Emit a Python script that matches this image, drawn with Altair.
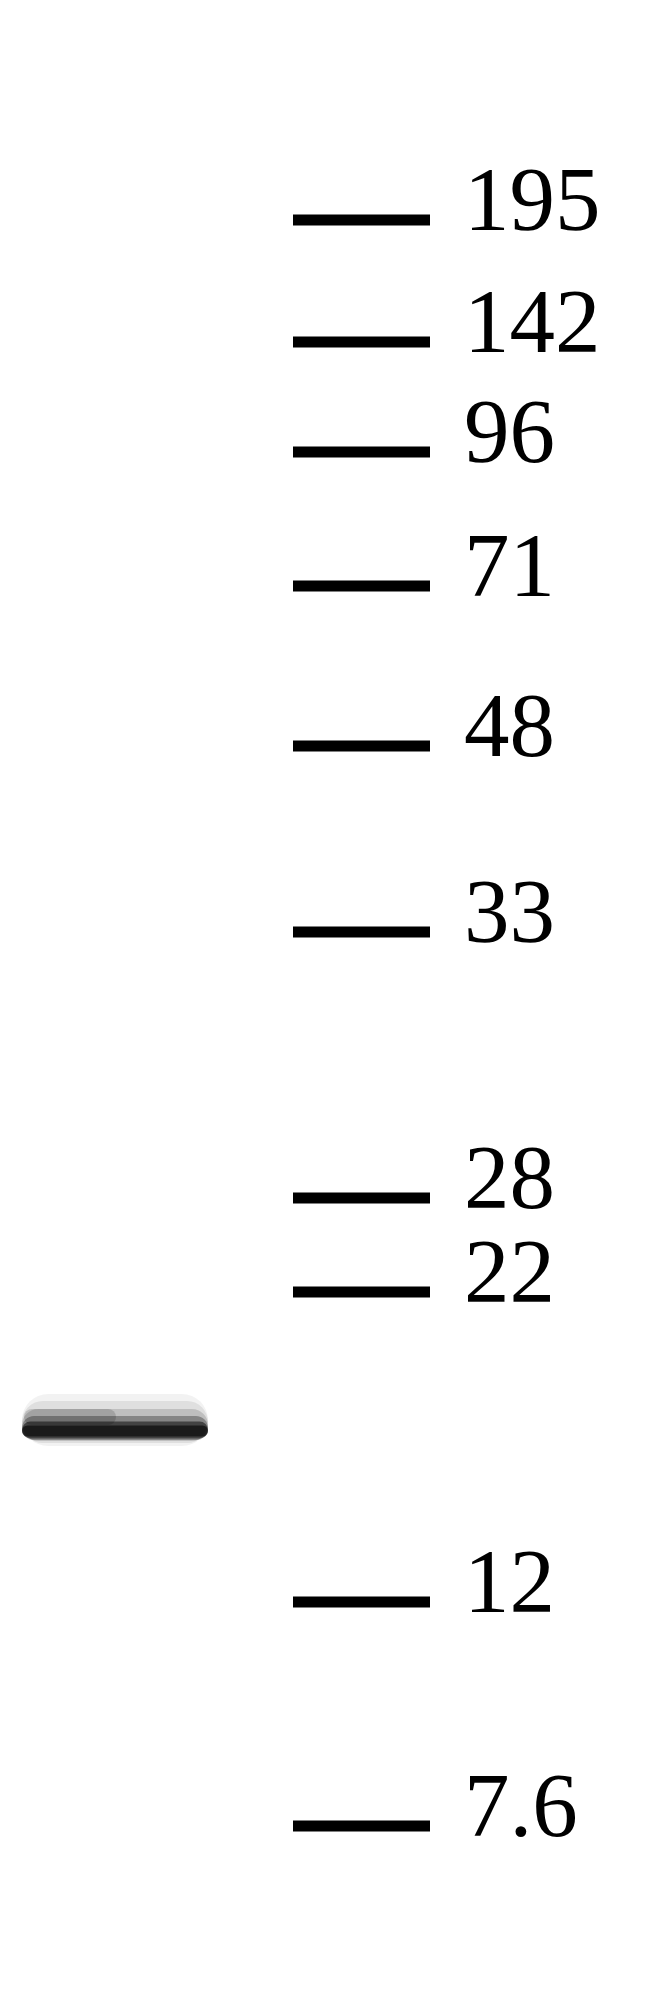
import pandas as pd
import altair as alt

# marker ladder (kDa) and where each marker ran on the gel (picture units, from top)
marker_kda = ["195", "142", "96", "71", "48", "33", "28", "22", "12", "7.6"]
marker_migration = [212, 334, 444, 578, 738, 924, 1190, 1284, 1594, 1818]

# the single detected band in the sample lane
band_lane = ["sample"]
band_migration = [1417]

markers = pd.DataFrame({"kda": marker_kda, "migration": marker_migration})
bands = pd.DataFrame({"lane": band_lane, "migration": band_migration})

y_scale = alt.Scale(domain=[0, 1974], reverse=True)
y_enc = alt.Y("migration:Q", scale=y_scale, axis=None)

ticks = alt.Chart(markers).mark_rule(
    color="black", strokeWidth=11, strokeCap="butt"
).encode(
    y=y_enc,
    x=alt.value(285),
    x2=alt.value(422),
)

labels = alt.Chart(markers).mark_text(
    font="Liberation Serif",
    fontSize=91,
    align="left",
    baseline="alphabetic",
    dy=10,
    color="black",
).encode(
    y=y_enc,
    x=alt.value(456),
    text="kda:N",
)

# blurred look of the band: stacked translucent strokes, widest first
band_layers = []
for w, opac, shift in [(52, 0.05, -5), (42, 0.08, -3), (32, 0.14, 0), (24, 0.3, 3),
                       (17, 0.5, 5), (11, 0.6, 6)]:
    band_layers.append(
        alt.Chart(bands).mark_rule(
            color="black", strokeWidth=w, opacity=opac, strokeCap="round", yOffset=shift
        ).encode(
            y=y_enc,
            x=alt.value(14 + w / 2),
            x2=alt.value(200 - w / 2),
        )
    )

# slightly heavier smear on the left half of the band
smear = alt.Chart(bands).mark_rule(
    color="black", strokeWidth=16, opacity=0.15, strokeCap="round", yOffset=-8
).encode(
    y=y_enc,
    x=alt.value(24),
    x2=alt.value(100),
)

chart = alt.layer(*band_layers, smear, ticks, labels).properties(
    width=634,
    height=1974,
    autosize=alt.AutoSizeParams(type="none"),
    padding=0,
    background="white",
).configure_view(
    stroke=None
)

chart.save("out.html", embed_options={"renderer": "svg", "actions": False})
